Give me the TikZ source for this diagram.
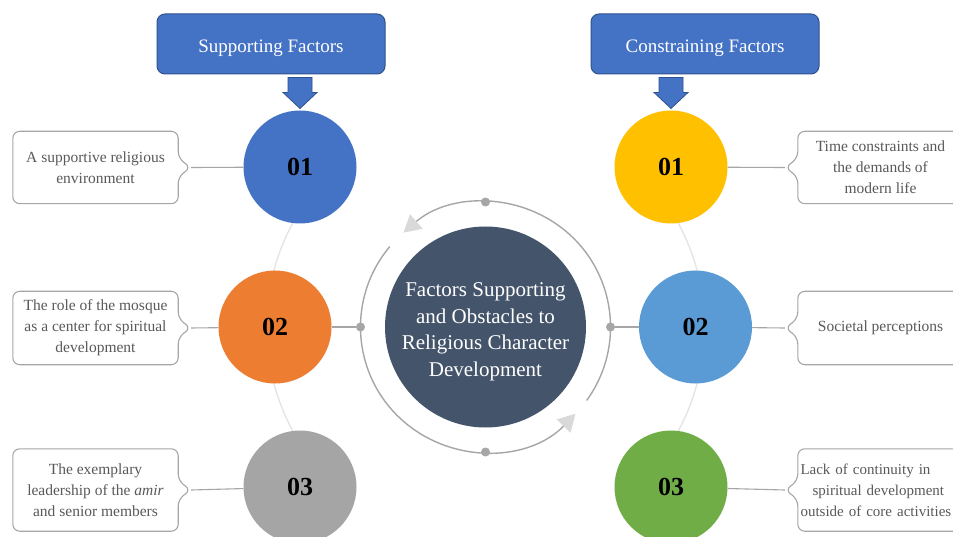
\documentclass[tikz,border=0pt]{standalone}
\usepackage{fontspec}
\setmainfont{Liberation Serif}
\usetikzlibrary{arrows.meta}

\definecolor{headblue}{HTML}{4472C4}
\definecolor{headedge}{HTML}{2F528F}
\definecolor{hubslate}{HTML}{44546A}
\definecolor{ringgray}{HTML}{A6A6A6}
\definecolor{tipgray}{HTML}{D9D9D9}
\definecolor{faintgray}{HTML}{E4E4E4}
\definecolor{textgray}{HTML}{595959}
\definecolor{numblue}{HTML}{4472C4}
\definecolor{numorange}{HTML}{ED7D31}
\definecolor{numgray}{HTML}{A5A5A5}
\definecolor{numyellow}{HTML}{FFC000}
\definecolor{numsky}{HTML}{5B9BD5}
\definecolor{numgreen}{HTML}{70AD47}

\begin{document}
\begin{tikzpicture}[x=1pt,y=-1pt,
  headbox/.style={draw=headedge, fill=headblue, line width=1pt, rounded corners=8pt,
    minimum width=228pt, minimum height=60pt, text height=17pt, text depth=0pt,
    text=white, font=\fontsize{19}{23}\selectfont},
  downarrow/.style={draw=headedge, fill=headblue, line width=0.8pt, line join=miter},
  numdisc/.style={circle, minimum size=113pt, inner sep=0pt, font=\fontsize{26}{30}\selectfont\bfseries},
  notebox/.style={minimum width=165pt, minimum height=72pt, inner sep=0pt, align=center,
    text=textgray, font=\fontsize{15.5}{21}\selectfont},
  noteline/.style={draw=ringgray, line width=1.1pt, rounded corners=7pt},
  linkline/.style={draw=ringgray, line width=1.1pt},
  ringdot/.style={circle, fill=ringgray, minimum size=9pt, inner sep=0pt},
]
\useasboundingbox (0,0) rectangle (953,537);
\fill[white] (0,0) rectangle (953,537);
\clip (0,0) rectangle (953,537);

% Faint arcs behind the numbered discs
\draw[faintgray, line width=1.3pt] (485.5,327) ++(150:219) arc[start angle=150, end angle=210, radius=219];
\draw[faintgray, line width=1.3pt] (485.5,327) ++(-30:219) arc[start angle=-30, end angle=30, radius=219];

% Numbered discs
\node[numdisc, fill=numblue] (L1) at (300,167) {01};
\node[numdisc, fill=numorange] (L2) at (275,327) {02};
\node[numdisc, fill=numgray] (L3) at (300,487) {03};
\node[numdisc, fill=numyellow] (R1) at (671,167) {01};
\node[numdisc, fill=numsky] (R2) at (695.5,327) {02};
\node[numdisc, fill=numgreen] (R3) at (671,487) {03};

% Headings
\node[headbox] (supHead) at (271,44) {Supporting Factors};
\node[headbox] (conHead) at (705,44) {Constraining Factors};
\draw[downarrow] (supHead.south -| L1) ++(-12,3) -- ++(24,0) -- ++(0,15) -- ++(5,0)
  -- ++(-17,16) -- ++(-17,-16) -- ++(5,0) -- cycle;
\draw[downarrow] (conHead.south -| R1) ++(-12,3) -- ++(24,0) -- ++(0,15) -- ++(5,0)
  -- ++(-17,16) -- ++(-17,-16) -- ++(5,0) -- cycle;

% Central hub and ring
\node[circle, fill=hubslate, minimum size=201pt, inner sep=0pt] (hub) at (485.5,327) {};
\node[text=white, align=center, font=\fontsize{21}{26.5}\selectfont] (hubText) at (485.5,332)
  {Factors Supporting\\and Obstacles to\\Religious Character\\Development};
\draw[ringgray, line width=1.4pt, -{Triangle[length=17pt, width=19pt, color=tipgray]}]
  (hub.center) ++(36:125) arc[start angle=36, end angle=-131, radius=125];
\draw[ringgray, line width=1.4pt, -{Triangle[length=17pt, width=19pt, color=tipgray]}]
  (hub.center) ++(-140:125) arc[start angle=-140, end angle=-316, radius=125];
\node[ringdot] (dotN) at (485.5,202) {};
\node[ringdot] (dotS) at (485.5,452) {};
\node[ringdot] (dotW) at (360.5,327) {};
\node[ringdot] (dotE) at (610.5,327) {};
\draw[linkline] (L2) -- (dotW);
\draw[linkline] (R2) -- (dotE);

% Callouts
\node[notebox] (nL1) at (95.5,167.5) {A supportive religious\\environment};
\node[notebox, minimum height=73pt] (nL2) at (95.5,328) {The role of the mosque\\as a center for spiritual\\development};
\node[notebox, minimum height=82pt] (nL3) at (95.5,490) {The exemplary\\leadership of the \textit{amir}\\and senior members};
\node[notebox] (nR1) at (880.5,167.5) {Time constraints and\\the demands of\\modern life};
\node[notebox, minimum height=73pt] (nR2) at (880.5,328) {Societal perceptions};
\node[notebox, minimum height=82pt, text width=160pt, align=left, font=\fontsize{15}{21}\selectfont]
  (nR3) at (880.5,490) {Lack of continuity in\\\hspace*{12pt}spiritual development\\outside of core activities};

\foreach \n in {nL1,nL2,nL3}
  \draw[noteline] (\n.north west) -- (\n.north east) -- ([yshift=9pt]\n.east)
    -- ([xshift=13pt]\n.east) coordinate (\n-tip) -- ([yshift=-9pt]\n.east)
    -- (\n.south east) -- (\n.south west) -- cycle;
\foreach \n in {nR1,nR2,nR3}
  \draw[noteline] (\n.north east) -- (\n.north west) -- ([yshift=9pt]\n.west)
    -- ([xshift=-13pt]\n.west) coordinate (\n-tip) -- ([yshift=-9pt]\n.west)
    -- (\n.south west) -- (\n.south east) -- cycle;

\foreach \n/\c in {nL1/L1, nL2/L2, nL3/L3, nR1/R1, nR2/R2, nR3/R3}
  \draw[linkline] (\n-tip) -- (\c);

\end{tikzpicture}
\end{document}
